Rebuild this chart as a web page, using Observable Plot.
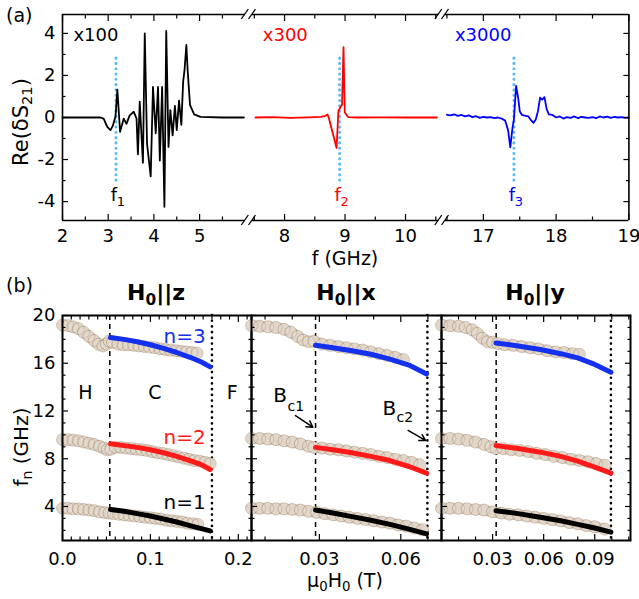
<!DOCTYPE html>
<html><head><meta charset="utf-8">
<script src="https://cdn.jsdelivr.net/npm/d3@7"></script>
<script src="https://cdn.jsdelivr.net/npm/@observablehq/plot@0.6"></script>
<style>
body{margin:0;background:#fff;}
#wrap{position:relative;width:639px;height:599px;overflow:hidden;font-family:"DejaVu Sans",sans-serif;color:#000;}
#wrap svg{position:absolute;left:0;top:0;overflow:visible;background:transparent;}
.t{position:absolute;white-space:nowrap;line-height:1;font-size:19px;}
.t sub{font-size:0.7em;vertical-align:-0.3em;line-height:0;}
.rot{transform:translate(-50%,-50%) rotate(-90deg);}
.ctr{transform:translateX(-50%);}
</style></head><body><div id="wrap">
<div class="t" style="left:6px;top:6px">(a)</div>
<div class="t rot" style="left:21px;top:122px;font-size:21px">Re(δS<sub>21</sub>)</div>
<div class="t ctr" style="left:345px;top:249px">f (GHz)</div>
<div class="t" style="left:6px;top:276px">(b)</div>
<div class="t ctr" style="left:156px;top:282px;font-size:22px;font-weight:bold">H<sub>0</sub>||z</div>
<div class="t ctr" style="left:346px;top:282px;font-size:22px;font-weight:bold">H<sub>0</sub>||x</div>
<div class="t ctr" style="left:535px;top:282px;font-size:22px;font-weight:bold">H<sub>0</sub>||y</div>
<div class="t rot" style="left:21px;top:447px;font-size:20px">f<sub>n</sub> (GHz)</div>
<div class="t ctr" style="left:345px;top:571px">μ<sub>0</sub>H<sub>0</sub> (T)</div>
</div>
<script>
// ================= DATA =================
// Panel (a): Re(dS21) traces, [f (GHz), value]
const trace100 = [[2.0,0],[2.5,0.01],[2.83,0],[2.9,-0.05],[2.98,-0.45],[3.05,-0.6],[3.1,-0.4],[3.16,0.05],[3.2,1.33],[3.26,-0.68],[3.34,-0.05],[3.4,-0.3],[3.47,0.1],[3.52,0.2],[3.56,0.27],[3.62,-0.05],[3.65,-1.75],[3.69,0.75],[3.76,-2.15],[3.8,4.0],[3.85,-1.25],[3.93,-2.8],[3.98,1.45],[4.04,-0.75],[4.09,1.45],[4.13,-2.05],[4.18,1.45],[4.23,-4.25],[4.27,4.12],[4.32,-1.4],[4.36,0.35],[4.41,-0.85],[4.46,0.55],[4.5,-0.6],[4.55,0.8],[4.6,-0.35],[4.64,1.7],[4.67,2.25],[4.71,3.45],[4.74,2.2],[4.79,0.6],[4.88,0.15],[5.02,0.03],[5.5,0],[5.97,0]];
const trace300 = [[7.52,0],[7.8,0.02],[8.1,-0.02],[8.4,0.01],[8.6,0.03],[8.68,0.08],[8.71,0.15],[8.73,0.0],[8.86,-1.45],[8.89,0.3],[8.925,0.5],[8.95,0.6],[8.975,3.35],[8.995,0.25],[9.05,0.02],[9.2,0],[9.6,0.01],[10.0,0],[10.52,0]];
const trace3000 = [[16.5,0.13],[16.55,0.1],[16.6,0.15],[16.65,0.08],[16.7,0.12],[16.75,0.05],[16.8,0.1],[16.85,0.02],[16.9,0.06],[16.95,-0.02],[17.0,0.03],[17.05,0.0],[17.1,0.02],[17.15,-0.03],[17.2,0.0],[17.25,-0.05],[17.3,-0.15],[17.34,-0.6],[17.37,-1.42],[17.4,-0.5],[17.42,-0.1],[17.45,1.5],[17.48,0.9],[17.5,0.3],[17.53,0.12],[17.58,0.08],[17.62,0.05],[17.66,-0.15],[17.69,-0.25],[17.72,-0.1],[17.75,0.3],[17.78,0.95],[17.81,0.85],[17.84,0.97],[17.87,0.4],[17.9,0.15],[17.95,0.12],[18.0,0.0],[18.05,0.05],[18.1,-0.05],[18.15,0.02],[18.2,-0.02],[18.25,0.05],[18.3,-0.03],[18.35,0.03],[18.4,0.0],[18.45,-0.02],[18.5,0.02],[18.55,-0.03],[18.6,0.05],[18.65,0.0],[18.7,0.04],[18.75,-0.02],[18.8,0.03],[18.85,0.0],[18.9,0.02],[18.95,-0.02],[19.0,0.0]];
const gainNames = ["x100","x300","x3000"];
const gainPos = [[2.24,3.9],[7.64,3.9],[16.61,3.9]];
const fMarks = [3.17, 8.91, 17.42];
const fNames = ["1","2","3"];
const aSegs = [[2,6],[7.47,10.55],[16.48,19]];
const aXMajor = [2,3,4,5,8,9,10,17,18,19];
const aXMinor = [2.5,3.5,4.5,5.5,7.5,8.5,9.5,10.5,16.5,17.5,18.5];
const aYMajor = [-4,-2,0,2,4];
const aYMinor = [-3,-1,1,3];

// Panel (b): [mu0H0 (T), f_n (GHz)]
const zExp3 = [[0,19.2],[0.006,19.15],[0.012,19.05],[0.018,18.9],[0.024,18.6],[0.03,18.25],[0.036,17.9],[0.041,17.6],[0.046,17.45],[0.05,17.6],[0.053,17.85],[0.057,17.75],[0.063,17.6],[0.069,17.55],[0.075,17.55],[0.081,17.5],[0.087,17.45],[0.093,17.4],[0.099,17.35],[0.105,17.3],[0.111,17.2],[0.117,17.15],[0.123,17.1],[0.129,17.05],[0.135,17.0],[0.141,16.95],[0.147,16.9],[0.153,16.85]];
const zExp2 = [[0,9.6],[0.006,9.6],[0.012,9.55],[0.018,9.5],[0.024,9.4],[0.03,9.3],[0.036,9.2],[0.042,9.05],[0.047,8.9],[0.051,8.75],[0.055,8.8],[0.06,8.95],[0.066,8.95],[0.072,8.9],[0.078,8.85],[0.084,8.8],[0.09,8.75],[0.096,8.7],[0.102,8.6],[0.108,8.5],[0.114,8.45],[0.12,8.35],[0.126,8.25],[0.132,8.15],[0.138,8.05],[0.144,7.95],[0.15,7.85],[0.156,7.8],[0.162,7.7],[0.168,7.6]];
const zExp1 = [[0,3.85],[0.006,3.85],[0.012,3.8],[0.018,3.8],[0.024,3.75],[0.03,3.7],[0.036,3.65],[0.042,3.55],[0.048,3.5],[0.053,3.45],[0.058,3.4],[0.064,3.35],[0.07,3.3],[0.076,3.25],[0.082,3.2],[0.088,3.15],[0.094,3.1],[0.1,3.05],[0.106,3.0],[0.112,2.95],[0.118,2.85],[0.124,2.8],[0.13,2.75],[0.136,2.7],[0.142,2.6],[0.148,2.55],[0.154,2.5]];
const zTh3 = [[0.0546,18.15],[0.07,18.0],[0.085,17.8],[0.1,17.55],[0.115,17.25],[0.13,16.9],[0.145,16.5],[0.158,16.1],[0.168,15.7]];
const zTh2 = [[0.0546,9.25],[0.07,9.1],[0.085,8.95],[0.1,8.75],[0.115,8.5],[0.13,8.2],[0.145,7.85],[0.158,7.5],[0.168,7.1]];
const zTh1 = [[0.0546,3.75],[0.07,3.6],[0.085,3.4],[0.1,3.2],[0.115,2.95],[0.13,2.7],[0.145,2.4],[0.158,2.15],[0.168,1.95]];

const xExp3 = [[0.005,19.15],[0.008,19.1],[0.011,19.05],[0.014,19.0],[0.017,18.85],[0.0195,18.6],[0.022,18.25],[0.024,17.95],[0.026,17.8],[0.028,17.85],[0.031,17.6],[0.034,17.5],[0.037,17.4],[0.04,17.3],[0.043,17.2],[0.046,17.1],[0.049,16.95],[0.052,16.8],[0.055,16.65],[0.058,16.5],[0.061,16.3]];
const xExp2 = [[0.005,9.7],[0.008,9.7],[0.011,9.65],[0.014,9.6],[0.017,9.5],[0.02,9.4],[0.023,9.25],[0.026,9.05],[0.028,8.95],[0.031,8.9],[0.034,8.8],[0.037,8.75],[0.04,8.65],[0.043,8.55],[0.046,8.45],[0.049,8.35],[0.052,8.2],[0.055,8.1],[0.058,7.95],[0.061,7.85],[0.064,7.7],[0.067,7.5]];
const xExp1 = [[0.005,3.85],[0.008,3.85],[0.011,3.85],[0.014,3.8],[0.017,3.8],[0.02,3.75],[0.023,3.7],[0.026,3.6],[0.029,3.5],[0.032,3.4],[0.035,3.3],[0.038,3.2],[0.041,3.1],[0.044,3.0],[0.047,2.9],[0.05,2.8],[0.053,2.7],[0.056,2.6],[0.059,2.45],[0.062,2.35],[0.065,2.2],[0.068,2.05]];
const xTh3 = [[0.0286,17.5],[0.035,17.3],[0.042,17.05],[0.049,16.75],[0.056,16.35],[0.063,15.85],[0.0695,15.1]];
const xTh2 = [[0.0286,8.95],[0.035,8.75],[0.042,8.5],[0.049,8.2],[0.056,7.85],[0.063,7.35],[0.0695,6.8]];
const xTh1 = [[0.0286,3.7],[0.035,3.45],[0.042,3.15],[0.049,2.85],[0.056,2.5],[0.063,2.1],[0.0695,1.7]];

const yExp3 = [[0,19.2],[0.005,19.15],[0.01,19.1],[0.014,19.0],[0.018,18.8],[0.021,18.5],[0.024,18.1],[0.027,17.8],[0.03,17.75],[0.033,17.65],[0.037,17.55],[0.042,17.5],[0.047,17.4],[0.052,17.3],[0.057,17.2],[0.062,17.05],[0.067,16.95],[0.072,16.9],[0.077,16.8],[0.081,16.75]];
const yExp2 = [[0,9.7],[0.005,9.7],[0.01,9.65],[0.015,9.55],[0.02,9.4],[0.025,9.2],[0.029,9.0],[0.032,8.85],[0.036,8.85],[0.041,8.75],[0.046,8.7],[0.051,8.6],[0.056,8.45],[0.061,8.35],[0.066,8.2],[0.071,8.1],[0.076,7.95],[0.081,7.85],[0.086,7.75],[0.091,7.6],[0.096,7.45]];
const yExp1 = [[0,3.85],[0.005,3.85],[0.01,3.85],[0.015,3.8],[0.02,3.75],[0.025,3.7],[0.03,3.55],[0.035,3.45],[0.04,3.35],[0.045,3.3],[0.05,3.2],[0.055,3.1],[0.06,3.0],[0.065,2.9],[0.07,2.8],[0.075,2.65],[0.08,2.55],[0.085,2.4],[0.09,2.3],[0.096,2.1]];
const yTh3 = [[0.032,17.7],[0.045,17.45],[0.058,17.15],[0.07,16.8],[0.08,16.45],[0.09,15.9],[0.0995,15.25]];
const yTh2 = [[0.032,9.1],[0.045,8.85],[0.058,8.55],[0.07,8.2],[0.08,7.8],[0.09,7.3],[0.0995,6.8]];
const yTh1 = [[0.032,3.65],[0.045,3.4],[0.058,3.1],[0.07,2.8],[0.08,2.5],[0.09,2.2],[0.0995,1.85]];

const bc1 = {z:0.0538, x:0.0286, y:0.0321};
const bc2 = {z:0.170, x:0.0698, y:0.0995};
const bYMajor = [4,8,12,16,20];
const bYMinor = [2,3,5,6,7,9,10,11,13,14,15,17,18,19];
const zXMajor = [0,0.1,0.2];
const zXMinor = [0.01,0.02,0.03,0.04,0.05,0.06,0.07,0.08,0.09,0.11,0.12,0.13,0.14,0.15,0.16,0.17,0.18,0.19,0.21];
const xXMajor = [0.03,0.06];
const xXMinor = [0.01,0.02,0.04,0.05,0.07];
const yXMajor = [0.03,0.06,0.09];
const yXMinor = [0.01,0.02,0.04,0.05,0.07,0.08,0.1,0.11];
const phaseNames = ["H","C","F"];
const phasePos = [[0.026,13.55],[0.105,13.55],[0.193,13.55]];
const nNames = ["n=3","n=2","n=1"];
const nPos = [[0.115,18.2],[0.115,9.8],[0.115,4.35]];

// ================= STYLE =================
const W = 639, H = 599;
const FONT = '"DejaVu Sans", sans-serif';
const C3 = "#1330ee", C2 = "#ff1a1a", C1 = "#000000";
const wrap = document.getElementById("wrap");
const style = {fontFamily: FONT, fontSize: "18px", background: "transparent", overflow: "visible"};
const blank = () => "";

function tickSet(xMaj, xMin, yMaj, yMin, big, small) {
  const o = {tickFormat: blank, label: null, strokeWidth: 1.2};
  return [
    Plot.axisX({anchor: "bottom", ticks: xMaj, tickSize: -big, ...o}),
    Plot.axisX({anchor: "bottom", ticks: xMin, tickSize: -small, ...o}),
    Plot.axisX({anchor: "top", ticks: xMaj, tickSize: -big, ...o}),
    Plot.axisX({anchor: "top", ticks: xMin, tickSize: -small, ...o}),
    Plot.axisY({anchor: "left", ticks: yMaj, tickSize: -big, ...o}),
    Plot.axisY({anchor: "left", ticks: yMin, tickSize: -small, ...o}),
    Plot.axisY({anchor: "right", ticks: yMaj, tickSize: -big, ...o}),
    Plot.axisY({anchor: "right", ticks: yMin, tickSize: -small, ...o})
  ];
}

// ================= PANEL (a) =================
const gainColors = [C1, "#ff0000", "#0000ff"];
const gainData = gainNames.map((t, i) => ({t, f: gainPos[i][0], v: gainPos[i][1], c: gainColors[i]}));
const fData = fMarks.map((f, i) => ({f, n: fNames[i], c: gainColors[i]}));
const breakVals = [6, 7.47, 10.55, 16.48];
const yDomA = [-4.9, 4.9];

function breakSlashes(index, scales) {
  const g = d3.create("svg:g").attr("stroke", "#000").attr("stroke-width", 1.3);
  for (const v of breakVals) for (const yv of yDomA) {
    const px = scales.x(v), py = scales.y(yv);
    g.append("line").attr("x1", px - 3.5).attr("y1", py + 5).attr("x2", px + 3.5).attr("y2", py - 5);
  }
  return g.node();
}

const pA = Plot.plot({
  width: W, height: H,
  marginLeft: 62, marginRight: W - 628.4, marginTop: 14, marginBottom: H - 220,
  x: {type: "linear", domain: [2, 6, 7.47, 10.55, 16.48, 19], range: [62, 244.8, 252, 438.3, 445, 628.4]},
  y: {domain: yDomA},
  color: {type: "identity"},
  style,
  marks: [
    Plot.ruleX(fData, {x: "f", y1: -3.0, y2: 3.0, stroke: "#55bbf8", strokeWidth: 3, strokeDasharray: "0.1,5.2", strokeLinecap: "round"}),
    Plot.line(trace100, {x: d => d[0], y: d => d[1], stroke: "#000", strokeWidth: 1.8}),
    Plot.line(trace300, {x: d => d[0], y: d => d[1], stroke: "#ff0000", strokeWidth: 1.8}),
    Plot.line(trace3000, {x: d => d[0], y: d => d[1], stroke: "#0000ff", strokeWidth: 1.8}),
    Plot.text(gainData, {x: "f", y: "v", text: "t", fill: "c", textAnchor: "start", fontSize: 18}),
    Plot.text(fData, {x: "f", y: -3.7, text: () => "f", fill: "c", dx: -2, fontSize: 18}),
    Plot.text(fData, {x: "f", y: -3.7, text: "n", fill: "c", dx: 5, dy: 7, fontSize: 13}),
    Plot.ruleX([2, 19], {stroke: "#000", strokeWidth: 1.6}),
    Plot.ruleY(aSegs, {x1: d => d[0], x2: d => d[1], y: () => yDomA[0], stroke: "#000", strokeWidth: 1.6}),
    Plot.ruleY(aSegs, {x1: d => d[0], x2: d => d[1], y: () => yDomA[1], stroke: "#000", strokeWidth: 1.6}),
    breakSlashes,
    tickSet(aXMajor, aXMinor, aYMajor, aYMinor, 6, 3.5),
    Plot.axisX({anchor: "bottom", ticks: aXMajor, tickSize: 0, tickPadding: 9, tickFormat: d => String(d), label: null, fontSize: 18}),
    Plot.axisY({anchor: "left", ticks: aYMajor, tickSize: 0, tickPadding: 7, tickFormat: d => String(d), label: null, fontSize: 18})
  ]
});
wrap.appendChild(pA);

// ================= PANEL (b) =================
const thColors = [C3, C2, C1];
function panelB({xDomain, left, right, exp, th, b1, b2, xMaj, xMin, fmt, showY, extra}) {
  const p = Plot.plot({
    width: W, height: H,
    marginLeft: left, marginRight: W - right, marginTop: 315, marginBottom: H - 540,
    x: {domain: xDomain},
    y: {domain: [1.15, 20]},
    color: {type: "identity"},
    style,
    marks: [
      Plot.ruleX([b1], {stroke: "#000", strokeWidth: 1.5, strokeDasharray: "5,4"}),
      Plot.ruleX([b2], {stroke: "#000", strokeWidth: 2.6, strokeDasharray: "0.1,5.6", strokeLinecap: "round"}),
      exp.map(s => Plot.line(s, {x: d => d[0], y: d => d[1], stroke: "#ddd2c4", strokeWidth: 11, strokeLinecap: "round", strokeLinejoin: "round"})),
      exp.map(s => Plot.dot(s, {x: d => d[0], y: d => d[1], r: 6, fill: "#e8dfd3", fillOpacity: 0.35, stroke: "#8a6848", strokeOpacity: 0.38, strokeWidth: 1})),
      th.map((s, i) => Plot.line(s, {x: d => d[0], y: d => d[1], stroke: thColors[i], strokeWidth: 5})),
      extra,
      Plot.frame({stroke: "#000", strokeWidth: 2}),
      tickSet(xMaj, xMin, bYMajor, bYMinor, 6, 3.5),
      Plot.axisX({anchor: "bottom", ticks: xMaj, tickSize: 0, tickPadding: 12, tickFormat: fmt, label: null, fontSize: 18}),
      showY ? Plot.axisY({anchor: "left", ticks: bYMajor, tickSize: 0, tickPadding: 7, tickFormat: d => String(d), label: null, fontSize: 18}) : null
    ]
  });
  wrap.appendChild(p);
}

const phaseData = phaseNames.map((t, i) => ({t, x: phasePos[i][0], y: phasePos[i][1]}));
const nData = nNames.map((t, i) => ({t, x: nPos[i][0], y: nPos[i][1], c: thColors[i]}));

panelB({
  xDomain: [0, 0.215], left: 62, right: 251,
  exp: [zExp3, zExp2, zExp1], th: [zTh3, zTh2, zTh1], b1: bc1.z, b2: bc2.z,
  xMaj: zXMajor, xMin: zXMinor, fmt: d => d.toFixed(1), showY: true,
  extra: [
    Plot.text(phaseData, {x: "x", y: "y", text: "t", fontSize: 19}),
    Plot.text(nData, {x: "x", y: "y", text: "t", fill: "c", textAnchor: "start", fontSize: 20})
  ]
});

const bLabels = [{b: "B", s: "c1", x: 0.0155, y: 13.26, sx: 0.01826, sy: 12.38}, {b: "B", s: "c2", x: 0.0558, y: 12.21, sx: 0.0584, sy: 11.48}];
const bArrows = [{x1: 0.0212, y1: 11.62, x2: 0.0276, y2: 10.64}, {x1: 0.0627, y1: 10.37, x2: 0.0691, y2: 9.53}];
panelB({
  xDomain: [0.005, 0.075], left: 251, right: 441,
  exp: [xExp3, xExp2, xExp1], th: [xTh3, xTh2, xTh1], b1: bc1.x, b2: bc2.x,
  xMaj: xXMajor, xMin: xXMinor, fmt: d => d.toFixed(2), showY: false,
  extra: [
    Plot.text(bLabels, {x: "x", y: "y", text: "b", fontSize: 20}),
    Plot.text(bLabels, {x: "sx", y: "sy", text: "s", textAnchor: "start", fontSize: 14}),
    Plot.arrow(bArrows, {x1: "x1", y1: "y1", x2: "x2", y2: "y2", stroke: "#000", strokeWidth: 1.5, headLength: 7})
  ]
});

panelB({
  xDomain: [0, 0.111], left: 441, right: 630,
  exp: [yExp3, yExp2, yExp1], th: [yTh3, yTh2, yTh1], b1: bc1.y, b2: bc2.y,
  xMaj: yXMajor, xMin: yXMinor, fmt: d => d.toFixed(2), showY: false,
  extra: []
});
</script></body></html>
